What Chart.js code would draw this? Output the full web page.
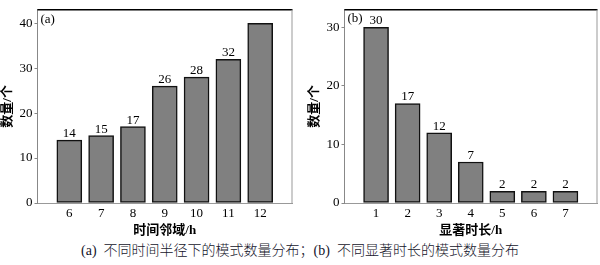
<!DOCTYPE html>
<html>
<head>
<meta charset="utf-8">
<script src="https://cdn.jsdelivr.net/npm/chart.js@4.4.1/dist/chart.umd.min.js"></script>
<style>
  body { margin: 0; background: #fff; }
  #wrap { position: relative; width: 600px; height: 265px; }
  canvas { position: absolute; top: 0; }
  #chartA { left: 0; }
  #chartB { left: 300px; }
  #caption {
    position: absolute; left: 0; top: 242px; width: 600px;
    text-align: center; white-space: pre;
    font: 300 14px "Liberation Serif", "Noto Sans CJK SC", serif;
    line-height: 17px; color: #14142a;
  }
</style>
</head>
<body>
<div id="wrap">
  <canvas id="chartA" width="300" height="240"></canvas>
  <canvas id="chartB" width="300" height="240"></canvas>
  <div id="caption">(a)  不同时间半径下的模式数量分布；(b)  不同显著时长的模式数量分布</div>
</div>
<script>
// panel (a): time neighbourhood
const hoursA = [6, 7, 8, 9, 10, 11, 12];
const countsA = [14, 15, 17, 26, 28, 32, 40];
const tagsA = ['14', '15', '17', '26', '28', '32', ''];

// panel (b): significant duration
const hoursB = [1, 2, 3, 4, 5, 6, 7];
const countsB = [30, 17, 12, 7, 2, 2, 2];
const tagsB = ['30', '17', '12', '7', '2', '2', '2'];

const SERIF = '"Liberation Serif", "Noto Sans CJK SC", serif';
Chart.defaults.font.family = SERIF;
Chart.defaults.color = '#000';

// value labels above bars + panel letter + top/right frame
const decor = {
  id: 'decor',
  afterDatasetsDraw(chart, args, opts) {
    const { ctx, chartArea: a } = chart;
    ctx.save();
    ctx.strokeStyle = '#000';
    ctx.lineWidth = 1.5;
    ctx.beginPath();
    ctx.moveTo(a.left, a.top);
    ctx.lineTo(a.right + 0.5, a.top);
    ctx.stroke();
    ctx.strokeStyle = '#999';
    ctx.lineWidth = 1;
    ctx.beginPath();
    ctx.moveTo(a.right, a.top);
    ctx.lineTo(a.right, a.bottom);
    ctx.stroke();

    ctx.fillStyle = '#000';
    ctx.font = '13px ' + SERIF;
    ctx.textAlign = 'center';
    ctx.textBaseline = 'alphabetic';
    chart.getDatasetMeta(0).data.forEach((bar, i) => {
      ctx.fillText(opts.tags[i], bar.x, bar.y - 3);
    });
    ctx.textAlign = 'left';
    ctx.textBaseline = 'middle';
    ctx.fillText(opts.panel, a.left + 3, a.top + opts.panelY);
    ctx.restore();
  }
};

function makeChart(id, xs, ys, tags, panel, xMin, xMax, yMax, xTitle, padLeft, padRight, panelY) {
  return new Chart(document.getElementById(id), {
    type: 'bar',
    data: {
      datasets: [{
        data: xs.map((x, i) => ({ x: x, y: ys[i] })),
        backgroundColor: '#808080',
        borderColor: '#111',
        borderWidth: 1.5,
        borderSkipped: false,
        barThickness: 25
      }]
    },
    options: {
      responsive: false,
      animation: false,
      layout: { padding: { left: padLeft, right: padRight, top: 1, bottom: 0 } },
      plugins: {
        legend: { display: false },
        tooltip: { enabled: false },
        decor: { tags: tags, panel: panel, panelY: panelY }
      },
      scales: {
        x: {
          type: 'linear',
          min: xMin,
          max: xMax,
          offset: false,
          grid: { display: false, drawTicks: false },
          border: { color: '#999', width: 1 },
          ticks: {
            stepSize: 1,
            padding: 3,
            font: { size: 13 },
            callback: v => (xs.includes(v) ? String(v) : '')
          },
          title: {
            display: true,
            text: xTitle,
            font: { size: 13, weight: 'bold' },
            padding: { top: 0, bottom: 2 }
          },
          afterFit: s => { s.height = 37; }
        },
        y: {
          min: 0,
          max: yMax,
          grid: { drawOnChartArea: false, drawTicks: true, tickLength: 3, color: '#888' },
          border: { color: '#888', width: 1 },
          ticks: {
            stepSize: 10,
            includeBounds: false,
            padding: 2,
            font: { size: 13 },
            callback: v => (v % 10 === 0 ? String(v) : '')
          },
          title: {
            display: true,
            text: '数量/个',
            font: { size: 13, weight: 'bold' },
            padding: { top: 0, bottom: 0 }
          },
          afterFit: s => { s.width = 37.5; }
        }
      }
    },
    plugins: [decor]
  });
}

makeChart('chartA', hoursA, countsA, tagsA, '(a)', 5, 13, 43, '时间邻域/h', 0, 8, 10);
makeChart('chartB', hoursB, countsB, tagsB, '(b)', 0, 8, 33, '显著时长/h', 7, 2, 9);
</script>
</body>
</html>
